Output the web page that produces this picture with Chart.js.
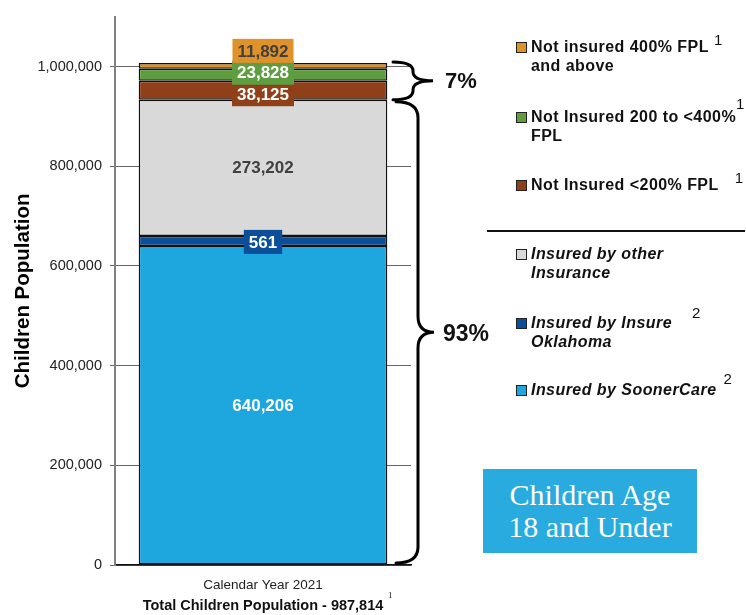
<!DOCTYPE html>
<html>
<head>
<meta charset="utf-8">
<script src="https://cdn.jsdelivr.net/npm/chart.js@4.4.1/dist/chart.umd.min.js"></script>
<style>
  html, body { margin: 0; padding: 0; background: #fff; }
  body { width: 746px; height: 615px; position: relative; overflow: hidden; font-family: "Liberation Sans", Arial, sans-serif; }
  #chart-wrap { position: absolute; left: 0; top: 0; width: 746px; height: 615px; }
  .legend-item { position: absolute; left: 531px; font-size: 16px; letter-spacing: 0.45px; font-weight: bold; line-height: 19px; color: #111; white-space: nowrap; }
  .legend-item.italic { font-style: italic; }
  .legend-item .swatch { position: absolute; left: -15px; top: 5px; width: 9px; height: 9px; border: 1px solid #222; }
  .legend-item sup { font-weight: normal; font-style: normal; font-size: 15px; letter-spacing: 0; position: relative; top: -4px; vertical-align: top; line-height: 14px; }
  #legend-rule { position: absolute; left: 487px; top: 230px; width: 258px; height: 2px; background: #111; }
  #age-box { position: absolute; left: 483px; top: 469px; width: 214px; height: 84px; background: #29abe0; color: #fff;
    font-family: "Liberation Serif", "DejaVu Serif", serif; font-size: 30px; line-height: 32px; text-align: center;
    display: flex; flex-direction: column; justify-content: center; }
  #total-note { position: absolute; left: 388px; top: 590px; font-family: "Liberation Serif", serif; font-size: 9px; color: #222; }
</style>
</head>
<body>
<div id="chart-wrap"><canvas id="chart"></canvas></div>
<div id="legend"></div>
<div id="legend-rule"></div>
<div id="age-box"><div>Children Age</div><div>18 and Under</div></div>
<div id="total-note">1</div>

<script>
const categories = ['Calendar Year 2021'];

// bottom to top of the stack
const seriesNames = [
  'Insured by SoonerCare',
  'Insured by Insure Oklahoma',
  'Insured by other Insurance',
  'Not Insured <200% FPL',
  'Not Insured 200 to <400% FPL',
  'Not insured 400% FPL and above',
];
const soonerCare = [640206];
const insureOklahoma = [561];
const otherInsurance = [273202];
const notInsuredUnder200 = [38125];
const notInsured200to400 = [23828];
const notInsured400Plus = [11892];

const yTicks = [0, 200000, 400000, 600000, 800000, 1000000];

const seriesValues = [soonerCare, insureOklahoma, otherInsurance, notInsuredUnder200, notInsured200to400, notInsured400Plus];
const insuredCount = 3;

// styles per series (same order as seriesNames)
const colors = ['#1ea6de', '#0b4f9a', '#d9d9d9', '#8f4019', '#5f9e40', '#e0922a'];
const labelStyle = [
  { boxed: false, color: '#ffffff', shift: 0 },
  { boxed: true, color: '#ffffff', shift: 1 },
  { boxed: false, color: '#404040', shift: 0 },
  { boxed: true, color: '#ffffff', shift: 4 },
  { boxed: true, color: '#ffffff', shift: -2 },
  { boxed: true, color: '#404040', shift: -15 },
];

const fmt = (v) => v.toLocaleString('en-US');
const total = seriesValues.reduce((sum, s) => sum + s[0], 0);
const insuredTotal = seriesValues.slice(0, insuredCount).reduce((sum, s) => sum + s[0], 0);

// legend (top to bottom = reverse stack order)
const legendRows = [
  { idx: 5, top: 37, html: 'Not insured 400% FPL<sup style="margin-left:5px">1</sup><br>and above' },
  { idx: 4, top: 107, html: 'Not Insured 200 to &lt;400%<sup style="margin-left:0;top:-10px">1</sup><br>FPL' },
  { idx: 3, top: 175, html: 'Not Insured &lt;200% FPL<sup style="margin-left:16px">1</sup>' },
  { idx: 2, top: 244, html: 'Insured by other<br>Insurance', italic: true },
  { idx: 1, top: 313, html: 'Insured by Insure<sup style="margin-left:20px;top:-7px">2</sup><br>Oklahoma', italic: true },
  { idx: 0, top: 380, html: 'Insured by SoonerCare<sup style="margin-left:7px;top:-8px">2</sup>', italic: true },
];
document.getElementById('legend').innerHTML = legendRows
  .map((r) => `<div class="legend-item${r.italic ? ' italic' : ''}" style="top:${r.top}px">
    <span class="swatch" style="background:${colors[r.idx]}"></span>${r.html}</div>`)
  .join('');

const segmentLabels = {
  id: 'segmentLabels',
  afterDatasetsDraw(chart) {
    const { ctx } = chart;
    ctx.save();
    ctx.font = 'bold 17px "Liberation Sans", Arial, sans-serif';
    ctx.textAlign = 'center';
    ctx.textBaseline = 'middle';
    chart.data.datasets.forEach((ds, i) => {
      const bar = chart.getDatasetMeta(i).data[0];
      const style = labelStyle[i];
      const text = fmt(ds.data[0]);
      const y = (bar.y + bar.base) / 2 + style.shift;
      if (style.boxed) {
        const w = ctx.measureText(text).width + 10;
        ctx.fillStyle = colors[i];
        ctx.fillRect(bar.x - w / 2, y - 12, w, 24);
      }
      ctx.fillStyle = style.color;
      ctx.fillText(text, bar.x, y + 1);
    });
    ctx.restore();
  },
};

function drawBrace(ctx, x0, x1, xt, yTop, yBot, r) {
  const ym = (yTop + yBot) / 2;
  ctx.beginPath();
  ctx.moveTo(x0, yTop);
  ctx.quadraticCurveTo(x1, yTop, x1, yTop + r);
  ctx.lineTo(x1, ym - r);
  ctx.quadraticCurveTo(x1, ym, xt, ym);
  ctx.quadraticCurveTo(x1, ym, x1, ym + r);
  ctx.lineTo(x1, yBot - r);
  ctx.quadraticCurveTo(x1, yBot, x0, yBot);
  ctx.stroke();
  return ym;
}

const braces = {
  id: 'braces',
  afterDraw(chart) {
    const { ctx } = chart;
    const y = chart.scales.y;
    const top = chart.getDatasetMeta(seriesNames.length - 1).data[0].y;
    const split = chart.getDatasetMeta(insuredCount - 1).data[0].y;
    const bottom = y.getPixelForValue(0);
    ctx.save();
    ctx.strokeStyle = '#000';
    ctx.lineWidth = 3;
    ctx.lineCap = 'round';
    const m1 = drawBrace(ctx, 393, 413, 433, top - 1, split, 9);
    const m2 = drawBrace(ctx, 396, 418, 434, split + 2, bottom - 2, 16);
    ctx.fillStyle = '#111';
    ctx.textBaseline = 'middle';
    ctx.font = 'bold 22px "Liberation Sans", Arial, sans-serif';
    ctx.fillText(Math.round((total - insuredTotal) / total * 100) + '%', 445, m1 + 1);
    ctx.font = 'bold 23px "Liberation Sans", Arial, sans-serif';
    ctx.fillText(Math.round(insuredTotal / total * 100) + '%', 443, m2 + 2);
    ctx.restore();
  },
};

new Chart(document.getElementById('chart'), {
  type: 'bar',
  data: {
    labels: categories,
    datasets: seriesNames.map((name, i) => ({
      label: name,
      data: seriesValues[i],
      backgroundColor: colors[i],
      borderColor: '#111',
      borderWidth: 1.5,
      borderSkipped: false,
      minBarLength: i === 1 ? 10 : 0,
    })),
  },
  options: {
    responsive: true,
    maintainAspectRatio: false,
    animation: false,
    events: [],
    layout: { padding: { top: 13, right: 335, left: 0, bottom: 0 } },
    datasets: { bar: { categoryPercentage: 1, barPercentage: 0.84 } },
    plugins: { legend: { display: false }, tooltip: { enabled: false } },
    scales: {
      x: {
        stacked: true,
        grid: { display: false },
        border: { color: '#111', width: 1.5 },
        ticks: { color: '#222', padding: 4, font: { family: '"Liberation Sans", Arial', size: 13.5 } },
        title: {
          display: true,
          text: `Total Children Population - ${fmt(total)}`,
          color: '#111',
          font: { family: '"Liberation Sans", Arial', size: 14.5, weight: 'bold' },
          padding: { top: 0, bottom: 0 },
        },
        afterFit: (axis) => { axis.height = 50; },
      },
      y: {
        stacked: true,
        min: 0,
        max: 1100000,
        afterBuildTicks: (axis) => { axis.ticks = yTicks.map((v) => ({ value: v })); },
        grid: { color: '#666', lineWidth: 1, tickLength: 5 },
        border: { color: '#808080', width: 2 },
        ticks: {
          color: '#222',
          padding: 8,
          font: { family: '"Liberation Sans", Arial', size: 14.5 },
          callback: (v) => fmt(v),
        },
        title: {
          display: true,
          text: 'Children Population',
          color: '#000',
          font: { family: '"Liberation Sans", Arial', size: 20.5, weight: 'bold' },
          padding: { top: 11, bottom: 0 },
        },
        afterFit: (axis) => { axis.width = 115; },
      },
    },
  },
  plugins: [segmentLabels, braces],
});
</script>
</body>
</html>
